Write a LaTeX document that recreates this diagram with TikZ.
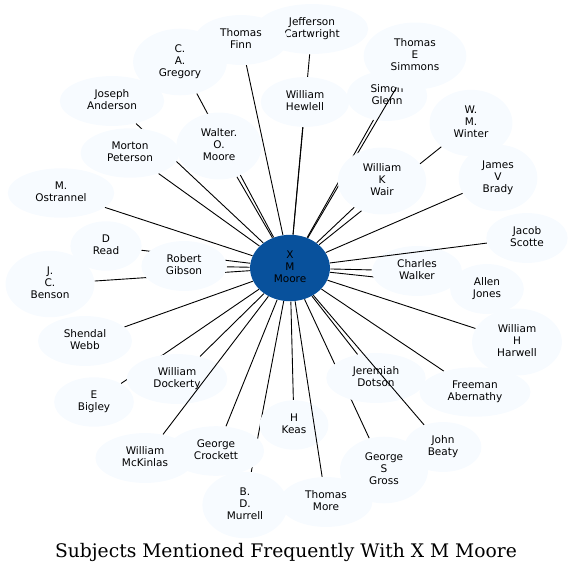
\documentclass[tikz,border=0pt]{standalone}
\usepackage{fontspec}
\setmainfont{DejaVu Sans}
\newfontfamily\titlefont{DejaVu Serif}
\usepackage{tikz}
\usetikzlibrary{shapes.geometric}
\usetikzlibrary{backgrounds}
\pgfdeclarelayer{front}
\pgfsetlayers{background,main,front}
\definecolor{leaf}{RGB}{247,251,255}
\definecolor{hub}{RGB}{8,81,156}
\tikzset{every picture/.style={line width=0.75pt}}

\begin{document}
\begin{tikzpicture}[x=1pt,y=-1pt,
  person/.style={ellipse,fill=leaf,font=\fontsize{10.5}{12}\selectfont,align=center,
    inner xsep=12pt,inner ysep=6.4pt,text depth=2.5pt},
  hubnode/.style={person,fill=hub},
  link/.style={draw=black,line width=0.9pt}]
\useasboundingbox (0,0) rectangle (573,574);

%Hub
\node [hubnode] (xmm) at (290,268) {X\\M\\Moore};

%Top
\node [person] (cartwright) at (312,29) {Jefferson\\Cartwright};
\node [person] (finn) at (241,40) {Thomas\\Finn};
\node [person] (gregory) at (180,62) {C.\\A.\\Gregory};
\node [person] (glenn) at (387,96) {Simon\\Glenn};
\node [person] (simmons) at (415,56) {Thomas\\E\\Simmons};
\node [person] (anderson) at (112,101) {Joseph\\Anderson};
\node [person] (hewlell) at (305,102) {William\\Hewlell};
\node [person] (winter) at (471,123) {W.\\M.\\Winter};
\node [person] (walter) at (219,146) {Walter.\\O.\\Moore};
\node [person] (peterson) at (130,153) {Morton\\Peterson};
\node [person] (brady) at (498,178) {James\\V\\Brady};
\node [person] (ostrannel) at (61,193) {M.\\Ostrannel};
%Middle
\node [person] (scotte) at (527,238) {Jacob\\Scotte};
\node [person] (read) at (106,246) {D\\Read};
\node [person] (gibson) at (184,266) {Robert\\Gibson};
\node [person] (benson) at (50,284) {J.\\C.\\Benson};
\node [person] (walker) at (417,271) {Charles\\Walker};
\node [person] (jones) at (487,289) {Allen\\Jones};
\node [person] (webb) at (85,341) {Shendal\\Webb};
\node [person] (harwell) at (517,342) {William\\H\\Harwell};
%Bottom
\node [person] (bigley) at (94,402) {E\\Bigley};
\node [person] (dockerty) at (177,379) {William\\Dockerty};
\node [person] (dotson) at (376,378) {Jeremiah\\Dotson};
\node [person] (abernathy) at (475,392) {Freeman\\Abernathy};
\node [person] (keas) at (294,425) {H\\Keas};
\node [person] (crockett) at (216,451) {George\\Crockett};
\node [person] (mckinlas) at (145,458) {William\\McKinlas};
\node [person] (beaty) at (443,447) {John\\Beaty};
\node [person] (gross) at (384,470) {George\\S\\Gross};
\node [person] (more) at (326,502) {Thomas\\More};
\node [person] (murrell) at (245,505) {B.\\D.\\Murrell};
\begin{pgfonlayer}{front}
\node [person] (wair) at (382,181) {William\\K\\Wair};
\end{pgfonlayer}

%Links behind the names
\begin{pgfonlayer}{background}
\foreach \n in {finn,cartwright,gregory,anderson,hewlell,glenn,winter,walter,peterson,wair,
  brady,ostrannel,read,gibson,benson,walker,jones,webb,harwell,dockerty,dotson,
  bigley,abernathy,keas,crockett,gross,murrell}
  \draw [link] (xmm) -- (\n);
\end{pgfonlayer}
%Links over the names
\foreach \n in {simmons,scotte,mckinlas,beaty,more}
  \draw [link] (xmm) -- (\n);

% Title
\node [anchor=base] (title) at (286,557) {\titlefont\fontsize{18.7}{22}\selectfont Subjects Mentioned Frequently With X M Moore};

\end{tikzpicture}
\end{document}
